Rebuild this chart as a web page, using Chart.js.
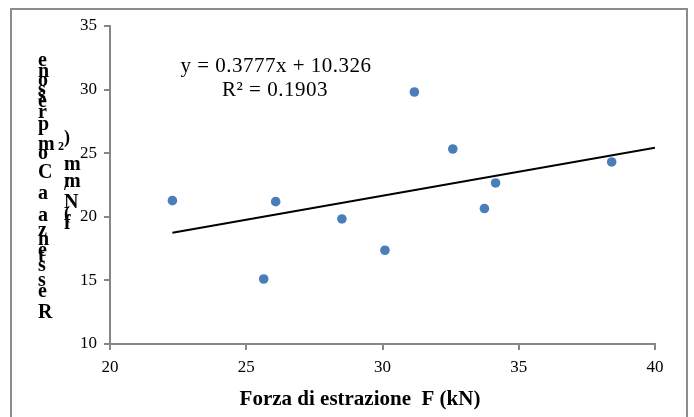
<!DOCTYPE html>
<html>
<head>
<meta charset="utf-8">
<script src="https://cdn.jsdelivr.net/npm/chart.js@4"></script>
<style>
  html, body { margin: 0; padding: 0; background: #fff; }
  canvas { display: block; }
</style>
</head>
<body>
<canvas id="chart" width="694" height="417"></canvas>
<script>
// pull-out force (kN) vs compressive strength (N/mm2)
const forza = [22.29, 25.64, 26.08, 28.51, 30.09, 31.17, 32.58, 33.74, 34.15, 38.41];
const resistenza = [21.27, 15.11, 21.19, 19.83, 17.37, 29.81, 25.33, 20.65, 22.66, 24.31];

// linear trendline as drawn (two ends)
const trendX = [22.29, 40];
const trendY = [18.75, 25.43];

const xTicks = [20, 25, 30, 35, 40];
const yTicks = [10, 15, 20, 25, 30, 35];

const equation = ["y = 0.3777x + 10.326", "R\u00b2 = 0.1903"];
const xTitle = "Forza di estrazione  F (kN)";

const axisGrey = "#868686";
const serif = "'Liberation Serif', 'Times New Roman', serif";

// the y title comes out as stacked upright letters in the original
const yTitleCol1 = [
  ["e", 66], ["n", 77], ["o", 86], ["s", 95], ["s", 101], ["e", 107],
  ["r", 118], ["p", 130], ["m", 150], ["o", 159], ["C", 178], ["a", 199],
  ["a", 221], ["z", 236], ["n", 245], ["e", 256], ["t", 262], ["s", 271],
  ["s", 286], ["e", 297], ["R", 318]
];
const yTitleCol2 = [
  [")", 143, 18], ["2", 150, 12], ["m", 170, 20], ["/", 190, 18],
  ["m", 187, 20], ["N", 208, 20], ["(", 219, 18], ["f", 229, 20]
];

const decor = {
  id: "decor",
  beforeDraw(chart) {
    const ctx = chart.ctx;
    ctx.save();
    ctx.fillStyle = "#fff";
    ctx.fillRect(0, 0, chart.width, chart.height);
    ctx.restore();
  },
  afterDraw(chart) {
    const ctx = chart.ctx;
    ctx.save();
    // outer frame
    ctx.strokeStyle = "#8c8c8c";
    ctx.lineWidth = 2;
    ctx.strokeRect(11, 9, 676, 420);

    ctx.fillStyle = "#000";
    ctx.textAlign = "center";
    ctx.textBaseline = "alphabetic";
    ctx.letterSpacing = "0.5px";
    ctx.font = "21px " + serif;
    ctx.fillText(equation[0], 276, 72);
    ctx.fillText(equation[1], 275, 96);
    ctx.letterSpacing = "0px";

    ctx.font = "bold 21px " + serif;
    ctx.fillText(xTitle, 360, 405);

    ctx.textAlign = "left";
    ctx.font = "bold 20px " + serif;
    yTitleCol1.forEach(([c, y]) => ctx.fillText(c, 38, y));
    yTitleCol2.forEach(([c, y, s]) => {
      ctx.font = "bold " + s + "px " + serif;
      ctx.fillText(c, c === "2" ? 58 : 64, y);
    });
    ctx.restore();
  }
};

new Chart(document.getElementById("chart"), {
  type: "scatter",
  data: {
    datasets: [
      {
        label: "Resistenza",
        data: forza.map((x, i) => ({ x: x, y: resistenza[i] })),
        backgroundColor: "#4a7ebb",
        borderWidth: 0,
        pointRadius: 4.8,
        pointHoverRadius: 4.8,
        order: 1
      },
      {
        label: "Lineare",
        data: trendX.map((x, i) => ({ x: x, y: trendY[i] })),
        showLine: true,
        borderColor: "#000",
        borderWidth: 2,
        pointRadius: 0,
        order: 2
      }
    ]
  },
  options: {
    responsive: false,
    animation: false,
    devicePixelRatio: 1,
    layout: { padding: { left: 0, top: 26, right: 39, bottom: 0 } },
    plugins: { legend: { display: false }, tooltip: { enabled: false } },
    scales: {
      x: {
        type: "linear",
        min: 20,
        max: 40,
        afterFit: (s) => { s.height = 73; },
        afterBuildTicks: (s) => { s.ticks = xTicks.map((v) => ({ value: v })); },
        ticks: { color: "#000", font: { family: serif, size: 17 }, padding: 7 },
        grid: { drawOnChartArea: false, drawTicks: true, tickLength: 6, color: axisGrey, lineWidth: 2 },
        border: { color: axisGrey, width: 2 }
      },
      y: {
        type: "linear",
        min: 10,
        max: 35,
        afterFit: (s) => { s.width = 110; },
        afterBuildTicks: (s) => { s.ticks = yTicks.map((v) => ({ value: v })); },
        ticks: { color: "#000", font: { family: serif, size: 17 }, padding: 7 },
        grid: { drawOnChartArea: false, drawTicks: true, tickLength: 6, color: axisGrey, lineWidth: 2 },
        border: { color: axisGrey, width: 2 }
      }
    }
  },
  plugins: [decor]
});
</script>
</body>
</html>
